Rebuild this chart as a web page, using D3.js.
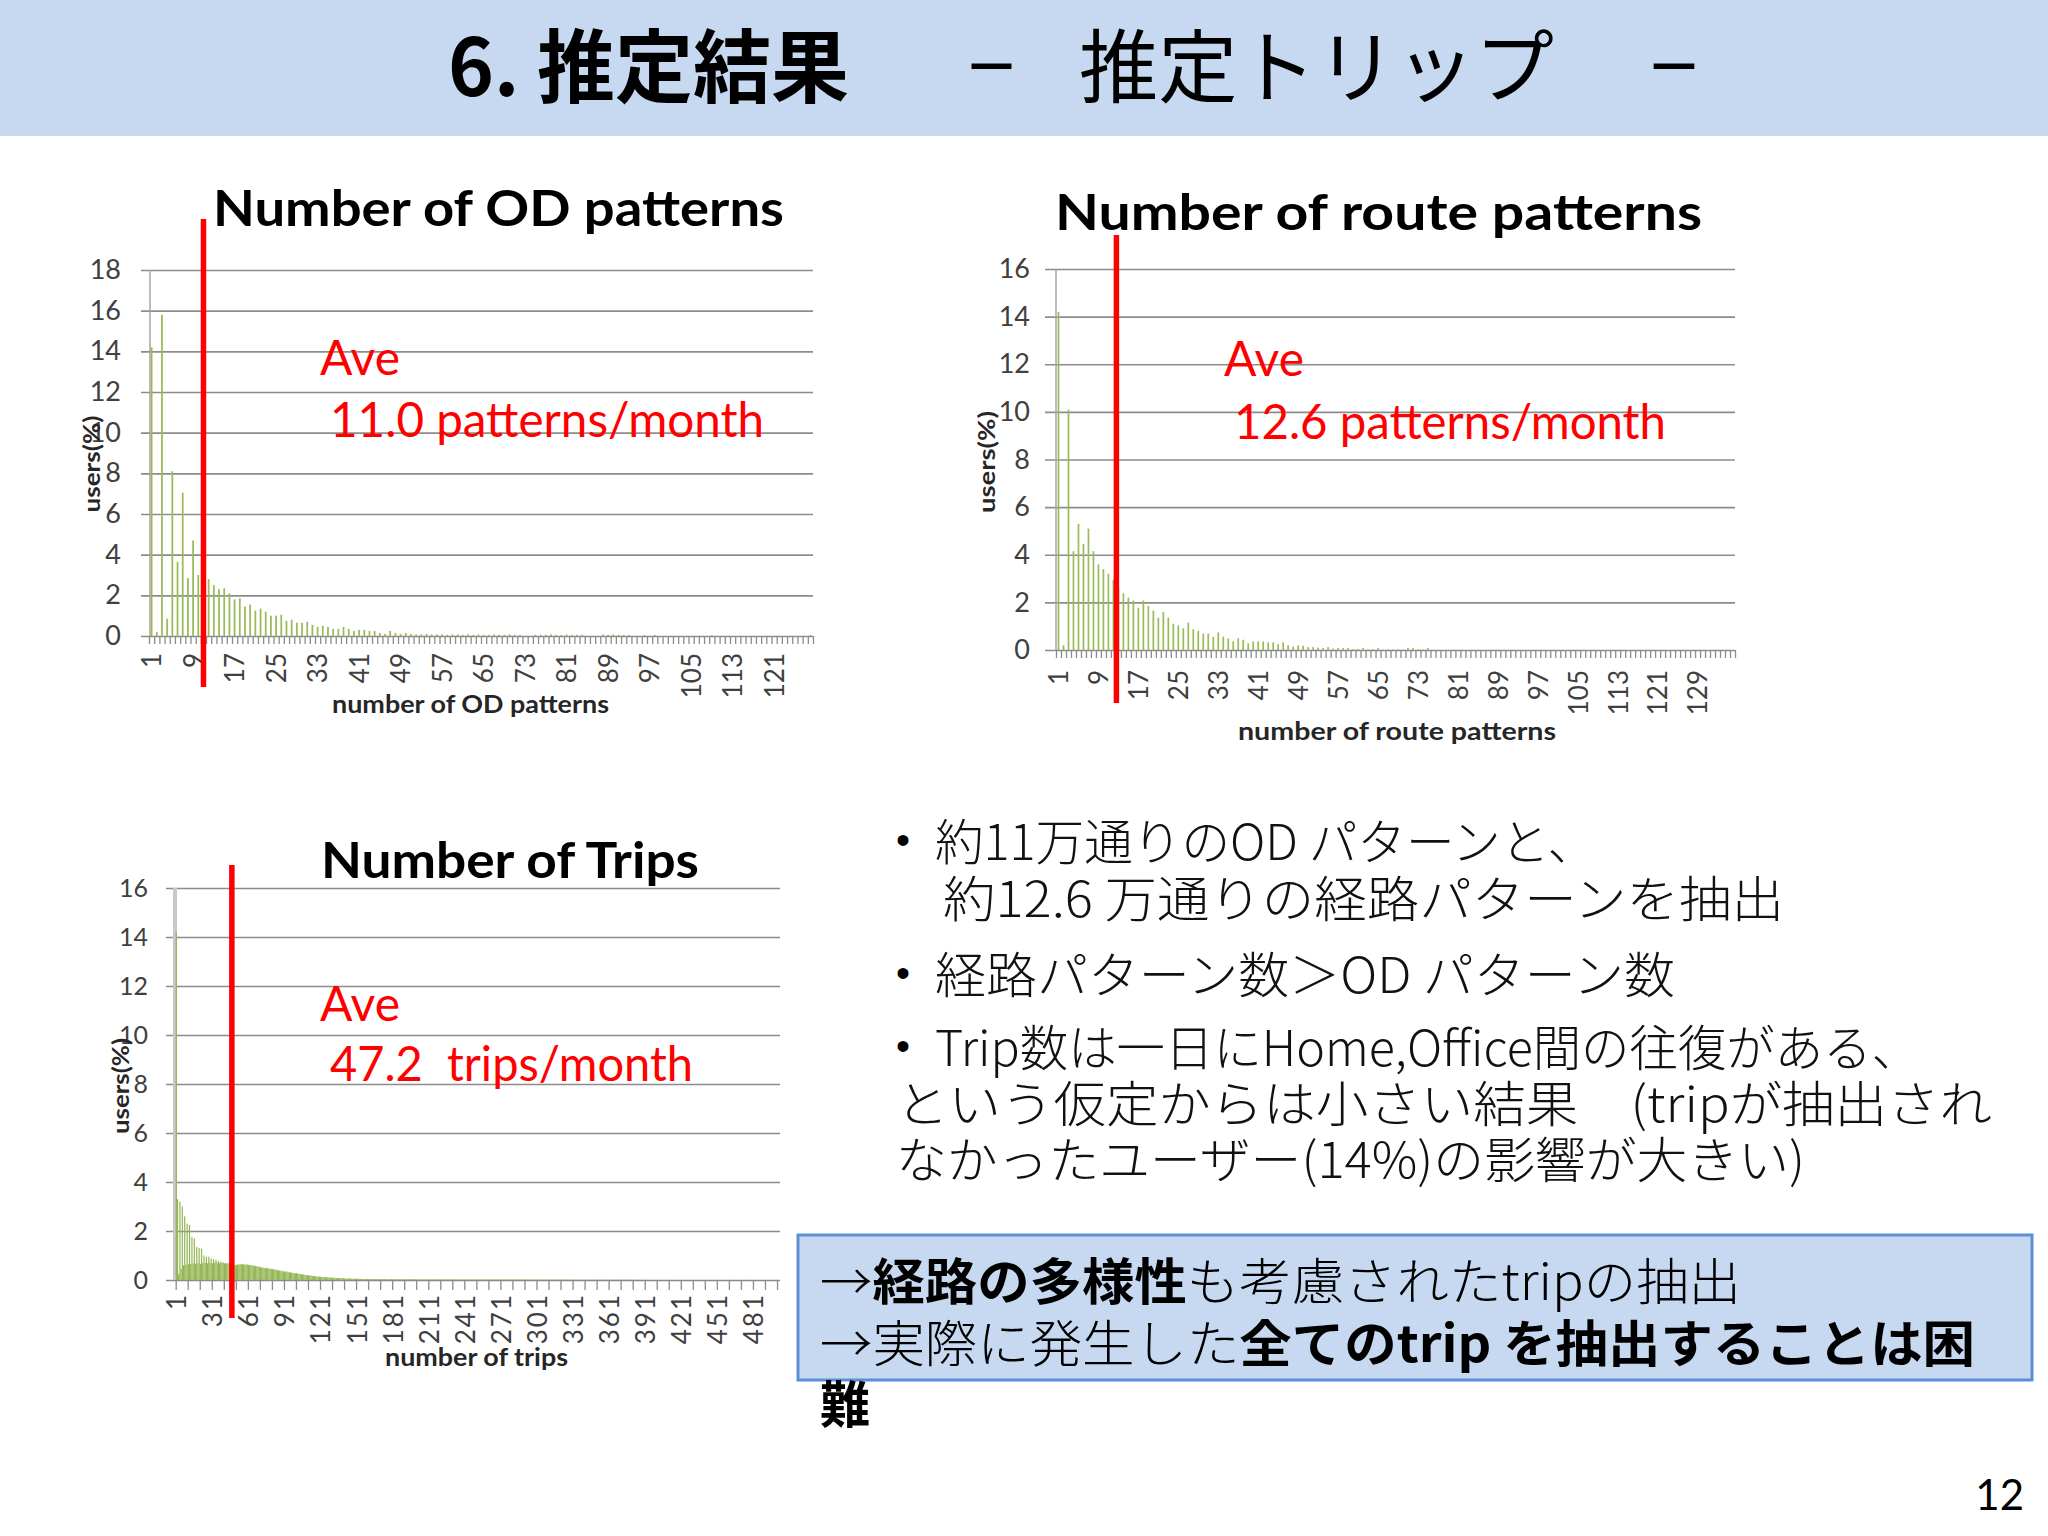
<!DOCTYPE html>
<html>
<head>
<meta charset="utf-8">
<script src="https://cdn.jsdelivr.net/npm/d3@7"></script>
<style>
  body { margin: 0; background: #fff; }
  svg { display: block; }
</style>
</head>
<body>
<svg id="slide" width="2048" height="1536"></svg>
<script>
// ---- data (users %, per category) ----
const odPct = [
  14.2, 0.2, 15.8, 0.85, 8.1, 3.65, 7.05, 2.85, 4.7, 3.0,
  3.2, 2.8, 2.5, 2.3, 2.35, 2.1, 1.8, 1.85, 1.45, 1.55,
  1.25, 1.35, 1.2, 1.0, 1.0, 1.05, 0.75, 0.8, 0.65, 0.65,
  0.7, 0.55, 0.45, 0.5, 0.45, 0.35, 0.35, 0.45, 0.35, 0.25,
  0.3, 0.3, 0.25, 0.25, 0.15, 0.1, 0.25, 0.15, 0.1, 0.15,
  0.1, 0.08, 0.08, 0.1, 0.08, 0.08, 0.08, 0.06, 0.08, 0.08,
  0.06, 0.08, 0.06, 0.08, 0.06, 0.06, 0.08, 0.06, 0.06, 0.08,
  0.06, 0.06, 0, 0, 0.06, 0.06, 0.06, 0.08, 0.06, 0.06,
  0.08, 0.06, 0.06, 0.06, 0, 0, 0, 0.08, 0.06, 0.08,
  0.06, 0.06, 0.05, 0, 0, 0.05, 0, 0.05, 0, 0,
  0, 0, 0, 0, 0, 0, 0, 0, 0.05, 0,
  0, 0, 0, 0, 0, 0, 0, 0, 0, 0,
  0, 0, 0, 0, 0, 0, 0, 0.05
];
const routePct = [
  14.2, 0.2, 10.1, 4.15, 5.3, 4.45, 5.1, 4.15, 3.6, 3.4,
  3.2, 2.95, 2.6, 2.38, 2.2, 2.08, 1.78, 2.08, 1.85, 1.66,
  1.36, 1.6, 1.36, 1.1, 1.03, 0.91, 1.15, 0.87, 0.8, 0.69,
  0.69, 0.55, 0.74, 0.56, 0.48, 0.36, 0.49, 0.43, 0.28, 0.36,
  0.36, 0.36, 0.32, 0.32, 0.25, 0.32, 0.2, 0.14, 0.2, 0.18,
  0.12, 0.12, 0.1, 0.08, 0.12, 0.06, 0.08, 0.08, 0.08, 0.04,
  0.04, 0.08, 0.03, 0.03, 0.08, 0.02, 0.03, 0.02, 0.02, 0.02,
  0.08, 0.08, 0.02, 0.02, 0.08, 0, 0, 0, 0, 0,
  0, 0, 0, 0, 0, 0, 0, 0, 0, 0,
  0, 0, 0, 0, 0, 0, 0, 0, 0, 0,
  0, 0, 0, 0, 0, 0, 0, 0, 0, 0,
  0, 0, 0, 0, 0, 0, 0, 0, 0, 0,
  0, 0, 0, 0, 0, 0, 0, 0, 0, 0,
  0, 0, 0, 0, 0, 0
];
const tripPct = [
  14.2, 3.3, 0.25, 3.2, 0.45, 3.0, 0.6, 2.6, 0.62, 2.3, 0.65, 2.25, 0.65, 1.75, 0.68, 1.7, 0.66, 1.35, 0.68, 1.3,
  0.66, 1.28, 0.68, 1.0, 0.7, 0.95, 0.68, 0.95, 0.7, 0.88, 0.68, 0.85, 0.7, 0.82, 0.7, 0.78, 0.68, 0.75, 0.7, 0.72,
  0.68, 0.7, 0.66, 0.7, 0.65, 0.68, 0.62, 0.64, 0.6, 0.62, 0.6, 0.64, 0.62, 0.66, 0.64, 0.65, 0.62, 0.66, 0.6, 0.64,
  0.62, 0.6, 0.62, 0.58, 0.6, 0.56, 0.58, 0.55, 0.56, 0.52, 0.54, 0.5, 0.52, 0.48, 0.5, 0.47, 0.5, 0.45, 0.47, 0.44,
  0.45, 0.42, 0.44, 0.4, 0.42, 0.38, 0.4, 0.36, 0.38, 0.35, 0.36, 0.33, 0.35, 0.31, 0.32, 0.3, 0.31, 0.28, 0.29, 0.27,
  0.28, 0.25, 0.26, 0.24, 0.24, 0.22, 0.23, 0.2, 0.21, 0.19, 0.2, 0.18, 0.18, 0.17, 0.16, 0.16, 0.15, 0.15, 0.14, 0.14,
  0.13, 0.13, 0.12, 0.12, 0.12, 0.11, 0.11, 0.1, 0.1, 0.1, 0.09, 0.09, 0.09, 0.08, 0.08, 0.08, 0.08, 0.07, 0.07, 0.07,
  0.07, 0.06, 0.06, 0.06, 0.06, 0.06, 0.05, 0.05, 0.05, 0.05, 0.05, 0.05, 0.05, 0.04, 0.04, 0.04, 0.04, 0.04, 0.04, 0.04,
  0.04, 0.04, 0.04, 0.04, 0.04, 0.035, 0.035, 0.035, 0.035, 0.035, 0.035, 0.035, 0.035, 0.035, 0.035, 0.03, 0.03, 0.03, 0.03, 0.03,
  0.03, 0.03, 0.03, 0.03, 0.03, 0.03, 0.03, 0.03, 0.03, 0.03, 0.03, 0.03, 0.03, 0.03, 0.03, 0.03, 0.03, 0.03, 0.03, 0.03,
  0.025, 0.025, 0.025, 0.025, 0.025, 0.025, 0.025, 0.025, 0.025, 0.025, 0.025, 0.025, 0.025, 0.025, 0.025, 0.025, 0.025, 0.025, 0.025, 0.025,
  0.025, 0.025, 0.025, 0.025, 0.025, 0.025, 0.025, 0.025, 0.025, 0.025, 0.02, 0.02, 0.02, 0.02, 0.02, 0.02, 0.02, 0.02, 0.02, 0.02,
  0.02, 0.02, 0.02, 0.02, 0.02, 0.02, 0.02, 0.02, 0.02, 0.02, 0.02, 0.02, 0.02, 0.02, 0.02, 0.02, 0.02, 0.02, 0.02, 0.02,
  0.02, 0.02, 0.02, 0.02, 0.02, 0.02, 0.02, 0.02, 0.02, 0.02, 0.02, 0.02, 0.02, 0.02, 0.02, 0.02, 0.02, 0.02, 0.02, 0.02,
  0.02, 0.02, 0.02, 0.02, 0.02, 0.02, 0.02, 0.02, 0.02, 0.02, 0.015, 0.015, 0.015, 0.015, 0.015, 0.015, 0.015, 0.015, 0.015, 0.015,
  0.015, 0.015, 0.015, 0.015, 0.015, 0.015, 0.015, 0.015, 0.015, 0.015, 0.015, 0.015, 0.015, 0.015, 0.015, 0.015, 0.015, 0.015, 0.015, 0.015,
  0.015, 0.015, 0.015, 0.015, 0.015, 0.015, 0.015, 0.015, 0.015, 0.015, 0.01, 0.01, 0.01, 0.01, 0.01, 0.01, 0.01, 0.01, 0.01, 0.01,
  0.01, 0.01, 0.01, 0.01, 0.01, 0.01, 0.01, 0.01, 0.01, 0.01, 0.01, 0.01, 0.01, 0.01, 0.01, 0.01, 0.01, 0.01, 0.01, 0.01,
  0.01, 0.01, 0.01, 0.01, 0.01, 0.01, 0.01, 0.01, 0.01, 0.01, 0.01, 0.01, 0.01, 0.01, 0.01, 0.01, 0.01, 0.01, 0.01, 0.01,
  0.01, 0, 0.01, 0.01, 0, 0.01, 0.01, 0, 0.01, 0, 0.01, 0, 0.01, 0, 0, 0.01, 0, 0.01, 0, 0,
  0.01, 0, 0, 0.01, 0, 0, 0.01, 0, 0, 0, 0.01, 0, 0, 0, 0, 0.01, 0, 0, 0, 0,
  0.01, 0, 0, 0, 0, 0, 0.01, 0, 0, 0, 0, 0, 0, 0.01, 0, 0, 0, 0, 0, 0,
  0, 0.01, 0, 0, 0, 0, 0, 0, 0, 0, 0.01, 0, 0, 0, 0, 0, 0, 0, 0, 0,
  0, 0, 0, 0.01, 0, 0, 0, 0, 0, 0, 0, 0, 0, 0, 0, 0, 0.01, 0, 0, 0,
  0, 0, 0, 0, 0, 0, 0, 0, 0, 0, 0, 0, 0, 0, 0, 0, 0, 0, 0, 0
];

const odAxisLabels    = [1, 9, 17, 25, 33, 41, 49, 57, 65, 73, 81, 89, 97, 105, 113, 121];
const routeAxisLabels = [1, 9, 17, 25, 33, 41, 49, 57, 65, 73, 81, 89, 97, 105, 113, 121, 129];
const tripAxisLabels  = [1, 31, 61, 91, 121, 151, 181, 211, 241, 271, 301, 331, 361, 391, 421, 451, 481];
const yTicks18 = [0, 2, 4, 6, 8, 10, 12, 14, 16, 18];
const yTicks16 = [0, 2, 4, 6, 8, 10, 12, 14, 16];

const odAve = 11.0, routeAve = 12.6, tripAve = 47.2;

const headerParts = ["6. 推定結果", "－", "推定トリップ", "－"];
const bulletLines = [
  "約11万通りのOD パターンと、",
  "約12.6 万通りの経路パターンを抽出",
  "経路パターン数＞OD パターン数",
  "Trip数は一日にHome,Office間の往復がある、",
  "という仮定からは小さい結果　(tripが抽出され",
  "なかったユーザー(14%)の影響が大きい)"
];
const boxLines = [
  [["→", false], ["経路の多様性", true], ["も考慮されたtripの抽出", false]],
  [["→実際に発生した", false], ["全てのtrip を抽出することは困", true]],
  [["難", true]]
];

// ---- layout ----
const JP = '"Noto Sans CJK JP", sans-serif';
const LAT = 'Lato, "Open Sans", sans-serif';
const svg = d3.select("#slide");

svg.append("rect").attr("width", 2048).attr("height", 1536).attr("fill", "#fff");

// header band
svg.append("rect").attr("x", 0).attr("y", 0).attr("width", 2048).attr("height", 136).attr("fill", "#c6d9f1");
const headerLayout = [
  { x: 448, w: 401, wt: 700 },
  { x: 964, w: 55, wt: 400 },
  { x: 1079, w: 475, wt: 400 },
  { x: 1646, w: 56, wt: 400 }
];
headerParts.forEach((t, i) => {
  const h = headerLayout[i];
  svg.append("text").attr("x", h.x).attr("y", 96)
    .attr("font-family", JP).attr("font-size", 80).attr("font-weight", h.wt)
    .attr("textLength", h.w).attr("lengthAdjust", "spacingAndGlyphs")
    .attr("fill", "#000").text(t);
});

const charts = [
  {
    data: odPct, labels: odAxisLabels, yMax: 18, yTicks: yTicks18, ave: odAve,
    x0: 149, x1: 813, gridLeft: 141, gridRight: 813, axisX: 150, yBase: 636, yTop: 270,
    yLabelX: 121, yFont: 27, xLabelOff: 17, xFont: 26, tickEvery: 1, tickLen: 8, pad: 0.66,
    barColor: "#9bbb59", axisStroke: "#a6a6a6", axisW: 1.5,
    title: "Number of OD patterns", titleX: 213, titleY: 226, titleW: 571,
    xTitle: "number of OD patterns", xTitleX: 332, xTitleY: 713, xTitleW: 277,
    yTitleX: 91, yTitleY: 464, yTitleW: 97,
    redTop: 219, redBot: 687,
    aveX: 320, aveY: 375, valText: "11.0 patterns/month", valX: 330, valY: 437, valW: 434
  },
  {
    data: routePct, labels: routeAxisLabels, yMax: 16, yTicks: yTicks16, ave: routeAve,
    x0: 1056, x1: 1735, gridLeft: 1045, gridRight: 1735, axisX: 1056, yBase: 650, yTop: 269,
    yLabelX: 1030, yFont: 27, xLabelOff: 20, xFont: 26, tickEvery: 1, tickLen: 8, pad: 0.66,
    barColor: "#9bbb59", axisStroke: "#a6a6a6", axisW: 1.5,
    title: "Number of route patterns", titleX: 1055, titleY: 230, titleW: 647,
    xTitle: "number of route patterns", xTitleX: 1238, xTitleY: 740, xTitleW: 318,
    yTitleX: 986, yTitleY: 462, yTitleW: 102,
    redTop: 235, redBot: 703,
    aveX: 1224, aveY: 376, valText: "12.6 patterns/month", valX: 1234, valY: 439, valW: 432
  },
  {
    data: tripPct, labels: tripAxisLabels, yMax: 16, yTicks: yTicks16, ave: tripAve,
    x0: 175.7, x1: 777, gridLeft: 166, gridRight: 780, axisX: 175, yBase: 1280, yTop: 888,
    yLabelX: 148, yFont: 25, xLabelOff: 13, xFont: 26, tickEvery: 10, tickLen: 10, pad: 0,
    barColor: "#93b654", axisStroke: "#c8c8c8", axisW: 4,
    title: "Number of Trips", titleX: 321, titleY: 878, titleW: 378,
    xTitle: "number of trips", xTitleX: 385, xTitleY: 1366, xTitleW: 183,
    yTitleX: 120, yTitleY: 1086, yTitleW: 96,
    redTop: 865, redBot: 1318,
    aveX: 320, aveY: 1021, valText: "47.2  trips/month", valX: 330, valY: 1081, valW: 363
  }
];

function drawChart(c) {
  const g = svg.append("g");
  const n = c.data.length;
  const cats = c.data.map((_, i) => i + 1);

  const x = d3.scaleBand().domain(cats).range([c.x0, c.x1])
    .paddingInner(c.pad).paddingOuter(c.pad / 2);
  const xv = d3.scaleLinear().domain([0.5, n + 0.5]).range([c.x0, c.x1]);
  const y = d3.scaleLinear().domain([0, c.yMax]).range([c.yBase, c.yTop]);

  // gridlines + y tick labels
  const gy = g.append("g").attr("transform", `translate(${c.gridLeft},0)`)
    .call(d3.axisLeft(y).tickValues(c.yTicks)
      .tickSize(-(c.gridRight - c.gridLeft)).tickPadding(c.gridLeft - c.yLabelX));
  gy.select(".domain").remove();
  gy.selectAll(".tick line").attr("stroke", "#8c8c8c").attr("stroke-width", 1.6);
  gy.selectAll(".tick text").attr("font-family", LAT).attr("font-size", c.yFont)
    .attr("fill", "#404040");

  // y axis line
  g.append("line").attr("x1", c.axisX).attr("x2", c.axisX)
    .attr("y1", c.yTop).attr("y2", c.yBase)
    .attr("stroke", c.axisStroke).attr("stroke-width", c.axisW);

  // bars
  g.append("g").selectAll("rect").data(c.data).join("rect")
    .attr("x", (d, i) => x(i + 1))
    .attr("width", Math.max(x.bandwidth(), 1))
    .attr("y", d => y(d))
    .attr("height", d => c.yBase - y(d))
    .attr("fill", c.barColor);

  // x tick marks at category boundaries
  const gt = g.append("g").attr("transform", `translate(0,${c.yBase})`)
    .call(d3.axisBottom(xv).tickValues(d3.range(0.5, n + 1, c.tickEvery))
      .tickSize(c.tickLen).tickFormat(""));
  gt.select(".domain").remove();
  gt.selectAll("line").attr("stroke", "#8c8c8c").attr("stroke-width", 1.3);

  // rotated x labels
  const gl = g.append("g").attr("transform", `translate(0,${c.yBase})`)
    .call(d3.axisBottom(xv).tickValues(c.labels).tickSize(0).tickFormat(d3.format("d")));
  gl.select(".domain").remove();
  gl.selectAll("text")
    .attr("x", 0).attr("y", 0).attr("dy", "0.36em")
    .attr("transform", `translate(0,${c.xLabelOff}) rotate(-90)`)
    .attr("text-anchor", "end")
    .attr("font-family", LAT).attr("font-size", c.xFont).attr("fill", "#404040")
    .attr("letter-spacing", c.tickEvery > 1 ? 2 : 0);

  // titles
  g.append("text").attr("x", c.titleX).attr("y", c.titleY)
    .attr("font-family", LAT).attr("font-weight", 700).attr("font-size", 50)
    .attr("textLength", c.titleW).attr("lengthAdjust", "spacingAndGlyphs")
    .attr("fill", "#000").text(c.title);
  g.append("text").attr("x", c.xTitleX).attr("y", c.xTitleY)
    .attr("font-family", LAT).attr("font-weight", 700).attr("font-size", 25)
    .attr("textLength", c.xTitleW).attr("lengthAdjust", "spacingAndGlyphs")
    .attr("fill", "#262626").text(c.xTitle);
  g.append("text")
    .attr("transform", `translate(${c.yTitleX},${c.yTitleY}) rotate(-90)`)
    .attr("text-anchor", "middle").attr("dominant-baseline", "central")
    .attr("font-family", LAT).attr("font-weight", 700).attr("font-size", 23)
    .attr("textLength", c.yTitleW).attr("lengthAdjust", "spacingAndGlyphs")
    .attr("fill", "#262626").text("users(%)");

  // average line + label
  g.append("line").attr("x1", xv(c.ave)).attr("x2", xv(c.ave))
    .attr("y1", c.redTop).attr("y2", c.redBot)
    .attr("stroke", "#ff0000").attr("stroke-width", 5.5);
  g.append("text").attr("x", c.aveX).attr("y", c.aveY)
    .attr("font-family", LAT).attr("font-size", 48).attr("fill", "#ff0000").text("Ave");
  g.append("text").attr("x", c.valX).attr("y", c.valY)
    .attr("font-family", LAT).attr("font-size", 48).attr("fill", "#ff0000")
    .attr("textLength", c.valW).attr("lengthAdjust", "spacingAndGlyphs")
    .attr("xml:space", "preserve").style("white-space", "pre")
    .text(c.valText);
}
charts.forEach(drawChart);

// bullet text
const bulletLayout = [
  { x: 935, y: 860, w: 661, dot: true },
  { x: 943, y: 917, w: 841, dot: false },
  { x: 935, y: 993, w: 740, dot: true },
  { x: 935, y: 1066, w: 985, dot: true },
  { x: 896, y: 1122, w: 1096, dot: false },
  { x: 896, y: 1178, w: 909, dot: false }
];
bulletLines.forEach((t, i) => {
  const b = bulletLayout[i];
  if (b.dot) {
    svg.append("text").attr("x", 896).attr("y", b.y - 6)
      .attr("font-family", '"Liberation Sans", sans-serif').attr("font-size", 40)
      .attr("fill", "#000").text("•");
  }
  svg.append("text").attr("x", b.x).attr("y", b.y)
    .attr("font-family", JP).attr("font-size", 49).attr("font-weight", 300)
    .attr("textLength", b.w).attr("lengthAdjust", "spacingAndGlyphs")
    .style("white-space", "pre").attr("fill", "#111").text(t);
});

// conclusion box
svg.append("rect").attr("x", 798).attr("y", 1235).attr("width", 1234).attr("height", 145)
  .attr("fill", "#c6d9f1").attr("stroke", "#5b8fd6").attr("stroke-width", 3);
const boxLayout = [
  { y: 1300, w: 921 },
  { y: 1362, w: 1155 },
  { y: 1423, w: null }
];
boxLines.forEach((segs, i) => {
  const b = boxLayout[i];
  const t = svg.append("text").attr("x", 820).attr("y", b.y)
    .attr("font-family", JP).attr("font-size", 50).attr("fill", "#000")
    .style("white-space", "pre");
  if (b.w) t.attr("textLength", b.w).attr("lengthAdjust", "spacingAndGlyphs");
  segs.forEach(([s, bold]) => {
    t.append("tspan").attr("font-weight", bold ? 700 : 300).text(s);
  });
});

// page number
svg.append("text").attr("x", 2024).attr("y", 1510).attr("text-anchor", "end")
  .attr("font-family", LAT).attr("font-size", 42).attr("fill", "#000").text("12");
</script>
</body>
</html>
